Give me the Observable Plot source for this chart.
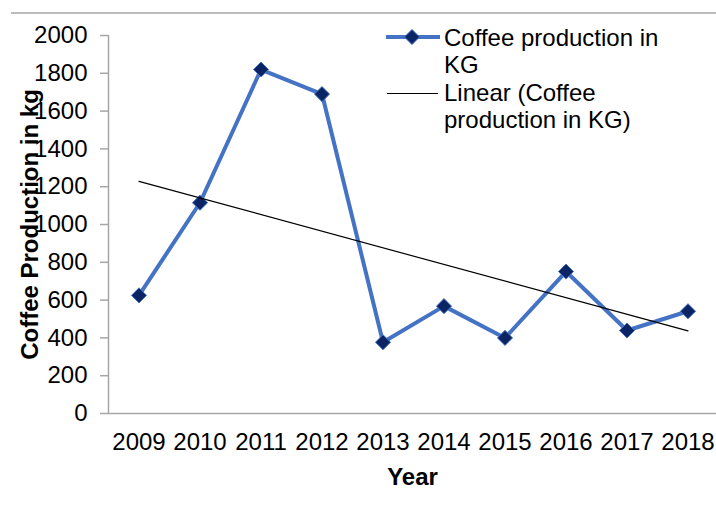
<!DOCTYPE html>
<html>
<head>
<meta charset="utf-8">
<script src="https://cdn.jsdelivr.net/npm/d3@7"></script>
<script src="https://cdn.jsdelivr.net/npm/@observablehq/plot@0.6"></script>
<style>
  html, body { margin: 0; padding: 0; background: #fff; }
  #chart { position: relative; width: 716px; height: 516px; font-family: "Liberation Sans", Arial, sans-serif; }
  #chart svg { display: block; }
</style>
</head>
<body>
<div id="chart"></div>
<script>
// Annual coffee production (kg)
const years = [2009, 2010, 2011, 2012, 2013, 2014, 2015, 2016, 2017, 2018];
const production = [625, 1115, 1820, 1690, 377, 568, 400, 751, 439, 541];
const yTicks = [0, 200, 400, 600, 800, 1000, 1200, 1400, 1600, 1800, 2000];
const seriesName = "Coffee production in KG";
const trendName = "Linear (Coffee production in KG)";

const data = years.map((year, i) => ({year, value: production[i]}));

const axisGray = "#a6a6a6";
const lineBlue = "#4472c4";
const markerNavy = "#0b2463";
const fontSize = 24;

const chart = Plot.plot({
  width: 716,
  height: 516,
  marginTop: 35,
  marginBottom: 103,
  marginLeft: 108,
  marginRight: 0,
  style: {fontFamily: "'Liberation Sans', Arial, sans-serif", fontSize: fontSize + "px", color: "#000", background: "#fff"},
  x: {domain: [years[0] - 0.5, years[years.length - 1] + 0.5], range: [108, 718]},
  y: {domain: [0, 2000]},
  marks: [
    // axis lines
    Plot.ruleY([0], {stroke: axisGray, strokeWidth: 1.5}),
    Plot.ruleX([years[0] - 0.5], {stroke: axisGray, strokeWidth: 1.5}),
    Plot.axisY({ticks: yTicks, tickFormat: d => String(d), tickSize: 8, tickPadding: 13, stroke: axisGray, strokeWidth: 1.5, label: null, fontSize}),
    Plot.axisX({ticks: years, tickFormat: d => String(d), tickSize: 0, tickPadding: 19, label: null, fontSize}),
    // axis titles
    Plot.text(["Year"], {frameAnchor: "bottom", dy: 71, fontWeight: "bold", fontSize}),
    Plot.text(["Coffee Production in kg"], {frameAnchor: "left", textAnchor: "middle", dx: -78, rotate: -90, fontWeight: "bold", fontSize}),
    // series and its linear trend
    Plot.line(data, {x: "year", y: "value", stroke: lineBlue, strokeWidth: 4, strokeLinejoin: "round"}),
    Plot.dot(data, {x: "year", y: "value", symbol: "diamond2", r: 6.8, fill: markerNavy, stroke: lineBlue, strokeWidth: 1}),
    Plot.linearRegressionY(data, {x: "year", y: "value", ci: 0, stroke: "#000", strokeWidth: 1.2})
  ]
});

document.getElementById("chart").appendChild(chart);

// Top border line of the chart area
d3.select(chart).append("line")
  .attr("x1", 11).attr("x2", 716).attr("y1", 13).attr("y2", 13)
  .attr("stroke", axisGray).attr("stroke-width", 1.5);

// Legend
const legend = d3.select(chart).append("g")
  .attr("font-family", "'Liberation Sans', Arial, sans-serif")
  .attr("font-size", fontSize).attr("fill", "#000").attr("text-anchor", "start");

legend.append("line").attr("x1", 386).attr("x2", 440).attr("y1", 37).attr("y2", 37)
  .attr("stroke", lineBlue).attr("stroke-width", 4);
legend.append("path").attr("d", d3.symbol(d3.symbolDiamond2, 6.8 * 6.8 * Math.PI)())
  .attr("transform", "translate(412,37)").attr("fill", markerNavy).attr("stroke", lineBlue).attr("stroke-width", 1);
legend.append("line").attr("x1", 387).attr("x2", 438).attr("y1", 93.5).attr("y2", 93.5)
  .attr("stroke", "#000").attr("stroke-width", 1.2);

const wrapLines = [
  [seriesName.slice(0, 20), 45.7],
  [seriesName.slice(21), 72.7],
  [trendName.slice(0, 14), 101],
  [trendName.slice(15), 128]
];
wrapLines.forEach(([t, y]) => {
  legend.append("text").attr("x", 444).attr("y", y).text(t);
});
</script>
</body>
</html>
